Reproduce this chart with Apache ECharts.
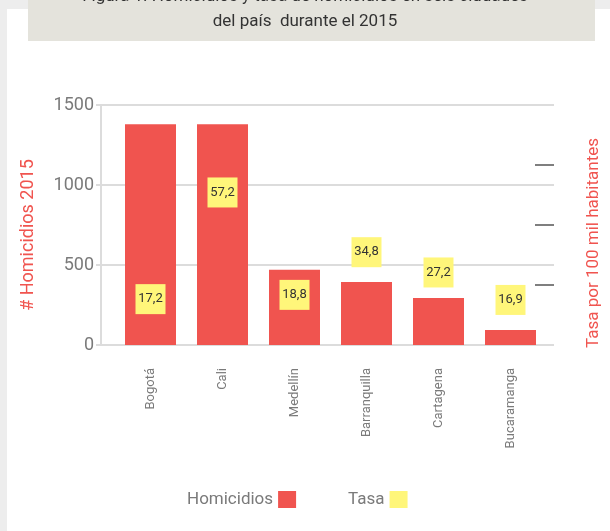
<!DOCTYPE html>
<html>
<head>
<meta charset="utf-8">
<script src="https://cdn.jsdelivr.net/npm/echarts@6/dist/echarts.min.js"></script>
<style>
  html, body { margin: 0; padding: 0; background: #ededed; }
  #main { width: 610px; height: 531px; }
</style>
</head>
<body>
<div id="main"></div>
<script>
// ciudades y datos 2015
var ciudades = ['Bogotá', 'Cali', 'Medellín', 'Barranquilla', 'Cartagena', 'Bucaramanga'];
var homicidios = [1380, 1380, 470, 394, 294, 94];
var tasa = [17.2, 57.2, 18.8, 34.8, 27.2, 16.9];
var ticksHom = [0, 500, 1000, 1500];
var ticksTasa = [20, 40, 60];

var FONT = "Roboto, sans-serif";
var ROJO = '#f0544f';
var AMARILLO = '#fff67a';
var GRIS = '#7a7a7a';

var chart = echarts.init(document.getElementById('main'));

var option = {
    backgroundColor: 'transparent',
    textStyle: { fontFamily: FONT },
    graphic: [
        { type: 'rect', z: -10, shape: { x: 7, y: 9, width: 603, height: 522 }, style: { fill: '#ffffff' } },
        { type: 'rect', z: -9, shape: { x: 28, y: 0, width: 567, height: 41 }, style: { fill: '#e4e3dc' } }
    ],
    title: {
        text: 'Figura 1. Homicidios y tasa de homicidios en seis ciudades\ndel país  durante el 2015',
        left: 'center',
        top: -16,
        padding: 0,
        textStyle: { fontFamily: FONT, fontSize: 17, fontWeight: 'normal', color: '#333', lineHeight: 25 }
    },
    legend: {
        left: 182,
        top: 486,
        align: 'right',
        icon: 'rect',
        itemWidth: 18,
        itemHeight: 17,
        itemGap: 52,
        textStyle: { fontFamily: FONT, fontSize: 17, color: GRIS },
        data: ['Homicidios', 'Tasa']
    },
    grid: [
        { left: 101, right: 53, top: 105, bottom: 186 },
        { left: 114.5, width: 432, top: 105, bottom: 186 }
    ],
    xAxis: [
        { type: 'category', gridIndex: 0, data: ciudades, show: false },
        {
            type: 'category', gridIndex: 1, data: ciudades,
            axisLine: { show: false }, axisTick: { show: false },
            axisLabel: { rotate: 90, margin: 23, fontFamily: FONT, fontSize: 13, color: GRIS }
        }
    ],
    yAxis: [
        {
            type: 'value', gridIndex: 0, min: ticksHom[0], max: ticksHom[ticksHom.length - 1], interval: 500,
            name: '# Homicidios 2015', nameLocation: 'middle', nameGap: 64, nameRotate: 90,
            nameTextStyle: { fontFamily: FONT, fontSize: 18, color: ROJO, padding: [0, 20, 0, 0] },
            axisLine: { show: true, lineStyle: { color: '#dcdcdc', width: 2 } },
            axisTick: { show: true, length: 5, lineStyle: { color: '#dcdcdc', width: 2 } },
            axisLabel: {
                margin: 7, fontFamily: FONT, fontSize: 18, color: GRIS,
                formatter: function (v) { return String(v); }
            },
            splitLine: { lineStyle: { color: '#dcdcdc', width: 2 } }
        },
        {
            type: 'value', gridIndex: 0, position: 'right', min: 0, max: 80, interval: 20,
            name: 'Tasa por 100 mil habitantes', nameLocation: 'middle', nameGap: 31, nameRotate: 90,
            nameTextStyle: { fontFamily: FONT, fontSize: 17, color: ROJO, padding: [0, 36, 0, 0] },
            axisLine: { show: false },
            axisTick: { show: true, inside: true, length: 19, customValues: ticksTasa, lineStyle: { color: '#555', width: 1.5 } },
            axisLabel: { show: false },
            splitLine: { show: false }
        },
        { type: 'value', gridIndex: 1, min: 0, max: 1500, show: false, splitLine: { show: false } },
        { type: 'value', gridIndex: 1, min: 0, max: 90, show: false, splitLine: { show: false } }
    ],
    series: [
        {
            name: 'Homicidios',
            type: 'bar',
            xAxisIndex: 1,
            yAxisIndex: 2,
            barWidth: 51,
            itemStyle: { color: ROJO },
            data: homicidios
        },
        {
            name: 'Tasa',
            type: 'scatter',
            xAxisIndex: 1,
            yAxisIndex: 3,
            symbol: 'rect',
            symbolSize: [30, 30],
            itemStyle: { color: AMARILLO, opacity: 1 },
            label: {
                show: true,
                position: 'inside',
                fontFamily: FONT,
                fontSize: 13,
                color: '#333',
                formatter: function (p) { return String(p.value).replace('.', ','); }
            },
            z: 5,
            data: tasa
        }
    ]
};

chart.setOption(option);
</script>
</body>
</html>
